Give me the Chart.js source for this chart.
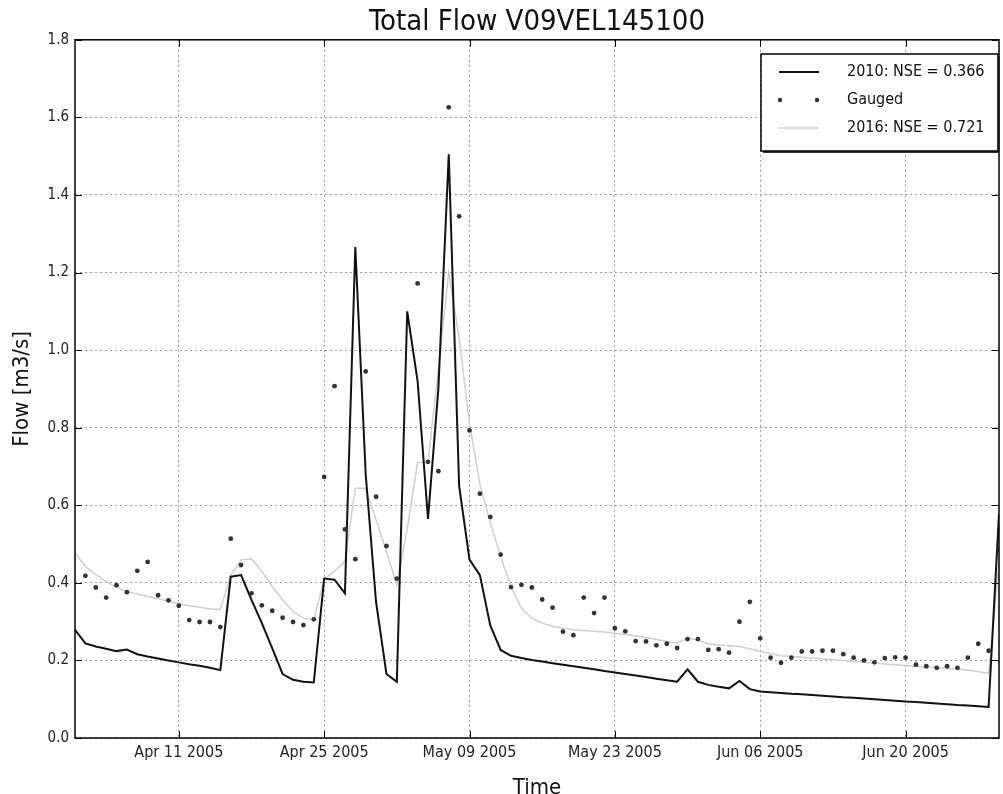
<!DOCTYPE html>
<html>
<head>
<meta charset="utf-8">
<title>Total Flow V09VEL145100</title>
<script src="https://cdn.jsdelivr.net/npm/chart.js@4.4.1/dist/chart.umd.min.js"></script>
<style>
    html, body { margin: 0; padding: 0; background: #fff; }
    #wrap { width: 1003px; height: 794px; }
</style>
</head>
<body>
<div id="wrap"><canvas id="flowChart" width="1003" height="794"></canvas></div>
<script>
// one value per day, day 0 = Apr 01 2005 ... day 89 = Jun 29 2005
const sim2010 = [
    0.279, 0.244, 0.236, 0.230, 0.224, 0.228, 0.216, 0.210, 0.205, 0.200,
    0.195, 0.190, 0.186, 0.181, 0.175, 0.416, 0.420, 0.356, 0.296, 0.231,
    0.165, 0.150, 0.145, 0.143, 0.411, 0.408, 0.373, 1.266, 0.680, 0.350,
    0.165, 0.145, 1.100, 0.920, 0.565, 0.900, 1.505, 0.650, 0.460, 0.420,
    0.290, 0.227, 0.212, 0.206, 0.201, 0.197, 0.193, 0.189, 0.185, 0.181,
    0.177, 0.173, 0.169, 0.165, 0.161, 0.157, 0.153, 0.149, 0.145, 0.177,
    0.145, 0.137, 0.132, 0.128, 0.147, 0.126, 0.120, 0.118, 0.116, 0.114,
    0.113, 0.111, 0.109, 0.107, 0.105, 0.104, 0.102, 0.100, 0.098, 0.096,
    0.094, 0.093, 0.091, 0.089, 0.087, 0.085, 0.084, 0.082, 0.080, 0.578
];

const gauged = [
    null, 0.418, 0.388, 0.362, 0.394, 0.376, 0.431, 0.454, 0.368, 0.355,
    0.341, 0.304, 0.299, 0.299, 0.286, 0.514, 0.446, 0.373, 0.342, 0.328,
    0.310, 0.299, 0.291, 0.306, 0.673, 0.907, 0.538, 0.461, 0.945, 0.622,
    0.495, 0.411, null, 1.172, 0.712, 0.688, 1.626, 1.345, 0.793, 0.630,
    0.570, 0.473, 0.389, 0.395, 0.388, 0.357, 0.336, 0.274, 0.265, 0.362,
    0.322, 0.362, 0.283, 0.275, 0.250, 0.249, 0.239, 0.243, 0.232, 0.255,
    0.255, 0.227, 0.229, 0.220, 0.300, 0.351, 0.257, 0.207, 0.194, 0.207,
    0.223, 0.223, 0.225, 0.225, 0.216, 0.207, 0.200, 0.195, 0.206, 0.208,
    0.207, 0.189, 0.185, 0.181, 0.185, 0.181, 0.207, 0.243, 0.225, 0.487
];

const sim2016 = [
    0.477, 0.442, 0.421, 0.403, 0.389, 0.378, 0.371, 0.365, 0.359, 0.352,
    0.346, 0.341, 0.337, 0.333, 0.331, 0.420, 0.459, 0.462, 0.430, 0.390,
    0.356, 0.326, 0.309, 0.305, 0.410, 0.430, 0.455, 0.644, 0.644, 0.563,
    0.480, 0.395, 0.540, 0.710, 0.710, 0.950, 1.200, 1.030, 0.810, 0.655,
    0.555, 0.468, 0.390, 0.335, 0.309, 0.296, 0.288, 0.283, 0.279, 0.277,
    0.275, 0.273, 0.270, 0.267, 0.263, 0.259, 0.254, 0.249, 0.245, 0.258,
    0.252, 0.243, 0.240, 0.238, 0.236, 0.230, 0.223, 0.218, 0.212, 0.210,
    0.208, 0.206, 0.204, 0.202, 0.200, 0.197, 0.195, 0.193, 0.191, 0.189,
    0.187, 0.185, 0.183, 0.181, 0.179, 0.177, 0.175, 0.171, 0.167, 0.450
];

const xTickDays = [10, 24, 38, 52, 66, 80];
const xTickLabels = ['Apr 11 2005', 'Apr 25 2005', 'May 09 2005', 'May 23 2005', 'Jun 06 2005', 'Jun 20 2005'];
const seriesLabels = ['2010: NSE = 0.366', 'Gauged', '2016: NSE = 0.721'];

const FONT = '"DejaVu Sans Condensed", "DejaVu Sans", sans-serif';

function toPoints(values) {
    return values.map((v, day) => ({ x: day, y: v }));
}

// frame, inward tick marks and the boxed legend in the upper right
const framePlugin = {
    id: 'frame',
    afterDraw(chart) {
        const { ctx, chartArea: a, scales } = chart;
        ctx.save();
        ctx.strokeStyle = '#000';
        ctx.lineWidth = 1;
        ctx.beginPath();
        scales.x.ticks.forEach(t => {
            const px = Math.round(scales.x.getPixelForValue(t.value)) + 0.5;
            ctx.moveTo(px, a.bottom); ctx.lineTo(px, a.bottom - 7);
            ctx.moveTo(px, a.top); ctx.lineTo(px, a.top + 7);
        });
        scales.y.ticks.forEach(t => {
            const py = Math.round(scales.y.getPixelForValue(t.value)) + 0.5;
            ctx.moveTo(a.left, py); ctx.lineTo(a.left + 7, py);
            ctx.moveTo(a.right, py); ctx.lineTo(a.right - 7, py);
        });
        ctx.stroke();
        ctx.lineWidth = 1.5;
        ctx.strokeRect(a.left, a.top, a.right - a.left, a.bottom - a.top);

        // legend
        const bx = 761, by = 54, bw = 237, bh = 97;
        ctx.fillStyle = '#333';
        ctx.fillRect(bx + 2, by + 2, bw, bh);
        ctx.fillStyle = '#fff';
        ctx.fillRect(bx, by, bw, bh);
        ctx.strokeStyle = '#000';
        ctx.lineWidth = 1.5;
        ctx.strokeRect(bx, by, bw, bh);

        const ds = chart.data.datasets;
        const rows = [72, 100, 128];
        ctx.font = '16px ' + FONT;
        ctx.textBaseline = 'middle';
        ds.forEach((d, i) => {
            const y = rows[i];
            if (d.showLine === false) {
                ctx.fillStyle = d.pointBackgroundColor;
                [780, 817].forEach(x => {
                    ctx.beginPath(); ctx.arc(x, y, 2.2, 0, Math.PI * 2); ctx.fill();
                });
            } else {
                ctx.strokeStyle = d.borderColor;
                ctx.lineWidth = d.borderWidth;
                ctx.beginPath(); ctx.moveTo(779, y); ctx.lineTo(819, y); ctx.stroke();
            }
            ctx.fillStyle = '#111';
            ctx.fillText(d.label, 847, y);
        });
        ctx.restore();
    }
};

const ctx = document.getElementById('flowChart').getContext('2d');
new Chart(ctx, {
    type: 'line',
    data: {
        datasets: [
            {
                label: seriesLabels[0],
                data: toPoints(sim2010),
                borderColor: '#111',
                borderWidth: 2,
                pointRadius: 0,
                order: 2
            },
            {
                label: seriesLabels[1],
                data: toPoints(gauged),
                showLine: false,
                pointRadius: 2.4,
                pointBorderWidth: 0,
                pointBackgroundColor: '#333',
                order: 1
            },
            {
                label: seriesLabels[2],
                data: toPoints(sim2016),
                borderColor: '#cfcfcf',
                borderWidth: 1.5,
                pointRadius: 0,
                order: 3
            }
        ]
    },
    options: {
        responsive: false,
        animation: false,
        layout: { padding: { left: 0, right: 1, top: 0, bottom: 0 } },
        plugins: {
            legend: { display: false },
            tooltip: { enabled: false },
            title: {
                display: true,
                fullSize: false,
                text: 'Total Flow V09VEL145100',
                color: '#111',
                font: { family: FONT, size: 29, weight: 'normal' },
                padding: { top: 5, bottom: 0 }
            }
        },
        scales: {
            x: {
                type: 'linear',
                min: 0,
                max: 89,
                afterBuildTicks: scale => {
                    scale.ticks = xTickDays.map(v => ({ value: v }));
                },
                afterFit: scale => { scale.height = 56; },
                ticks: {
                    autoSkip: false,
                    maxRotation: 0,
                    padding: 5,
                    color: '#222',
                    font: { family: FONT, size: 16 },
                    callback: value => xTickLabels[xTickDays.indexOf(value)]
                },
                grid: { color: '#9a9a9a', lineWidth: 1, drawTicks: false },
                border: { display: false, dash: [2, 3] },
                title: {
                    display: true,
                    text: 'Time',
                    color: '#111',
                    font: { family: FONT, size: 22, lineHeight: 1 },
                    padding: { top: 0, bottom: -5 }
                }
            },
            y: {
                min: 0,
                max: 1.8,
                afterFit: scale => { scale.width = 75; },
                ticks: {
                    stepSize: 0.2,
                    padding: 6,
                    color: '#222',
                    font: { family: FONT, size: 15 },
                    callback: value => value.toFixed(1)
                },
                grid: { color: '#9a9a9a', lineWidth: 1, drawTicks: false },
                border: { display: false, dash: [2, 3] },
                title: {
                    display: true,
                    text: 'Flow [m3/s]',
                    color: '#111',
                    font: { family: FONT, size: 22 },
                    padding: { top: 9, bottom: 0 }
                }
            }
        }
    },
    plugins: [framePlugin]
});
</script>
</body>
</html>
